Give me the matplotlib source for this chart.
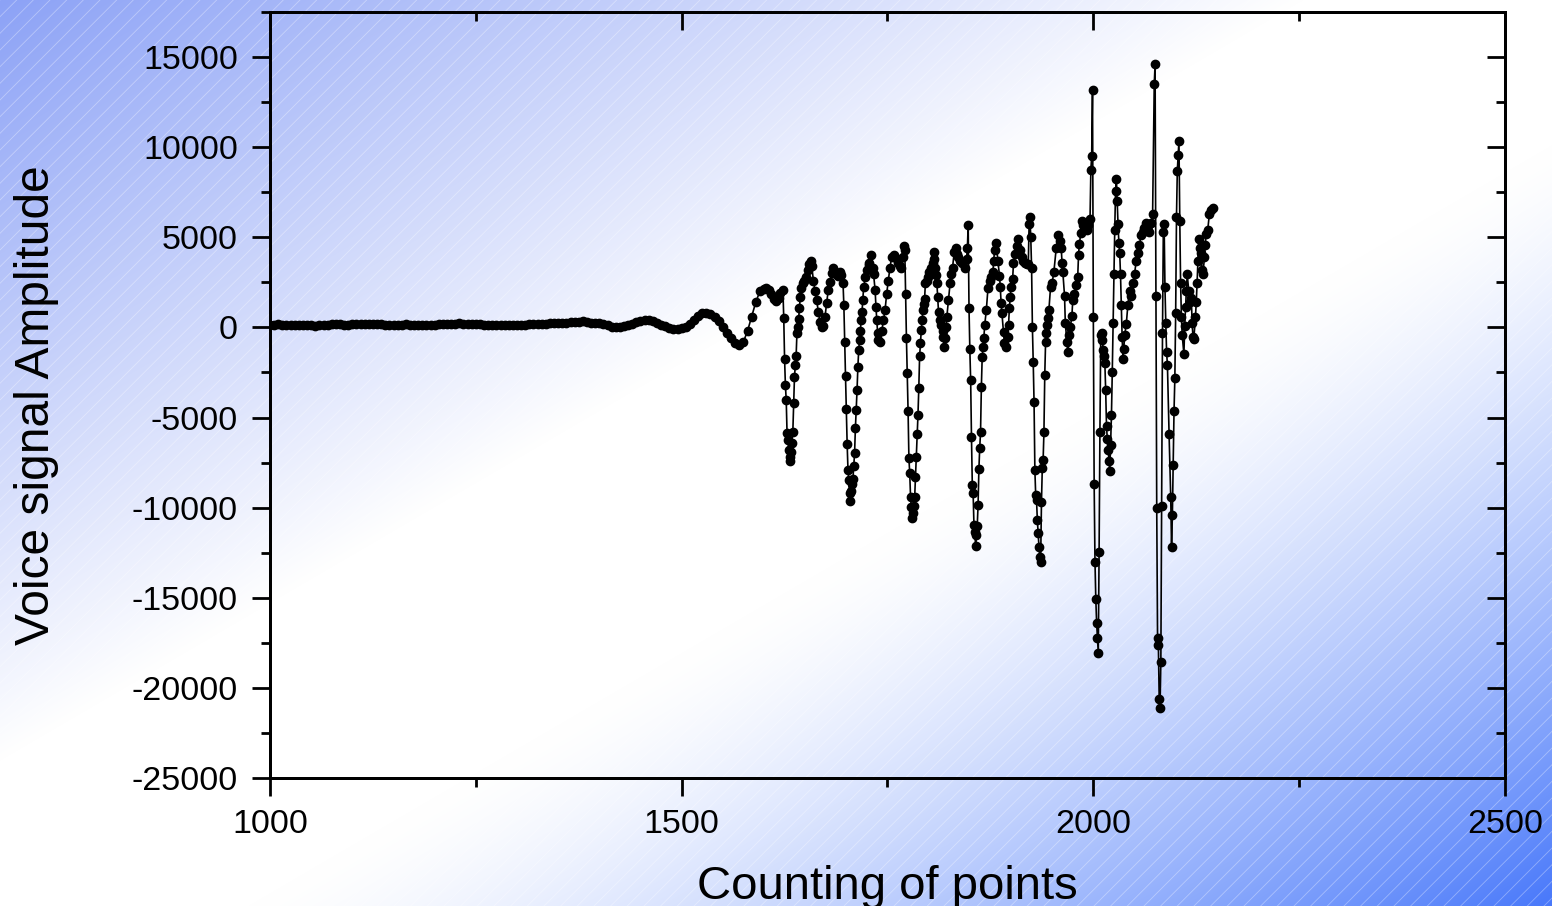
import numpy as np
import matplotlib
matplotlib.use("Agg")
from matplotlib import pyplot as plt
from matplotlib.patches import Rectangle

# quiet lead-in, one point every 5 samples
quiet_x = list(range(1000, 1600, 5))
quiet_y = [150, 160, 170, 150, 130, 120, 140, 160, 150, 130,
           110, 100, 120, 140, 160, 170, 180, 170, 160, 150,
           170, 190, 200, 210, 200, 190, 180, 170, 160, 150,
           140, 150, 160, 170, 160, 150, 140, 130, 140, 150,
           160, 170, 180, 190, 200, 210, 220, 210, 200, 190,
           180, 170, 160, 150, 140, 130, 120, 110, 120, 130,
           140, 150, 160, 170, 180, 190, 200, 210, 220, 230,
           240, 250, 260, 280, 300, 320, 330, 300, 270, 250,
           250, 200, 120, 50, 0, 20, 80, 130, 200, 300,
           380, 430, 420, 350, 250, 150, 60, -20, -80, -110,
           -60, 50, 200, 400, 650, 820, 800, 760, 600, 350,
           50, -300, -600, -850, -1000, -800, -200, 600, 1400, 2000]

# voiced part, read dot by dot
voice_x = [1600, 1603, 1606, 1609, 1612, 1615, 1618, 1620, 1623, 1624,
           1625, 1626, 1627, 1628, 1629, 1630, 1631, 1632, 1633, 1634,
           1635, 1636, 1637, 1638, 1639, 1640, 1641, 1642, 1643, 1644,
           1645, 1647, 1649, 1651, 1653, 1655, 1657, 1658, 1660, 1662,
           1664, 1666, 1668, 1670, 1672, 1674, 1676, 1678, 1680, 1682,
           1684, 1686, 1688, 1690, 1692, 1694, 1696, 1697, 1698, 1699,
           1700, 1701, 1702, 1703, 1704, 1705, 1706, 1707, 1708, 1709,
           1710, 1711, 1712, 1713, 1714, 1715, 1716, 1717, 1718, 1719,
           1720, 1721, 1723, 1725, 1727, 1728, 1730, 1732, 1733, 1735,
           1736, 1737, 1738, 1739, 1741, 1743, 1745, 1747, 1749, 1751,
           1753, 1755, 1758, 1761, 1763, 1765, 1767, 1769, 1770, 1771,
           1772, 1773, 1774, 1775, 1776, 1777, 1778, 1779, 1780, 1781,
           1782, 1783, 1784, 1785, 1786, 1787, 1788, 1789, 1790, 1791,
           1792, 1793, 1794, 1795, 1796, 1798, 1799, 1801, 1803, 1805,
           1806, 1807, 1808, 1809, 1810, 1811, 1812, 1814, 1815, 1817,
           1818, 1819, 1820, 1821, 1822, 1824, 1826, 1827, 1829, 1831,
           1833, 1835, 1836, 1838, 1841, 1844, 1846, 1847, 1848, 1849,
           1850, 1851, 1852, 1853, 1854, 1855, 1856, 1857, 1858, 1859,
           1860, 1861, 1862, 1863, 1864, 1865, 1866, 1867, 1868, 1870,
           1872, 1874, 1876, 1878, 1879, 1880, 1882, 1884, 1886, 1887,
           1888, 1889, 1891, 1892, 1894, 1896, 1897, 1898, 1899, 1900,
           1902, 1903, 1905, 1907, 1909, 1911, 1913, 1915, 1917, 1919,
           1921, 1922, 1923, 1924, 1925, 1926, 1927, 1928, 1929, 1930,
           1931, 1932, 1933, 1934, 1935, 1936, 1937, 1938, 1939, 1940,
           1941, 1942, 1943, 1944, 1945, 1946, 1948, 1950, 1952, 1955,
           1957, 1959, 1961, 1962, 1963, 1965, 1966, 1968, 1969, 1971,
           1972, 1974, 1975, 1977, 1979, 1981, 1982, 1983, 1985, 1986,
           1988, 1990, 1992, 1994, 1996, 1997, 1998, 1999, 2000, 2001,
           2002, 2003, 2004, 2005, 2006, 2007, 2008, 2009, 2010, 2011,
           2012, 2013, 2014, 2015, 2016, 2017, 2018, 2019, 2020, 2021,
           2022, 2023, 2024, 2025, 2026, 2027, 2028, 2029, 2030, 2031,
           2032, 2033, 2034, 2035, 2036, 2037, 2038, 2040, 2042, 2044,
           2046, 2048, 2050, 2052, 2054, 2056, 2058, 2060, 2062, 2064,
           2066, 2068, 2070, 2072, 2074, 2075, 2076, 2077, 2078, 2079,
           2080, 2081, 2082, 2083, 2084, 2085, 2086, 2087, 2088, 2089,
           2090, 2092, 2094, 2095, 2096, 2097, 2098, 2099, 2100, 2101,
           2102, 2103, 2104, 2105, 2106, 2107, 2108, 2110, 2111, 2112,
           2113, 2114, 2116, 2117, 2119, 2120, 2121, 2122, 2124, 2125,
           2126, 2127, 2128, 2130, 2131, 2132, 2133, 2135, 2136, 2137,
           2139, 2141, 2143, 2145]
voice_y = [2150, 2200, 2100, 1850, 1600, 1450, 1650, 1900, 2050, 500,
           -1770, -3210, -4040, -5870, -6260, -6810, -7200, -7420, -6900, -6400,
           -5820, -4200, -2770, -2100, -1600, -330, 0, 440, 1050, 1660,
           2160, 2440, 2600, 2770, 3160, 3500, 3710, 3400, 2600, 2000,
           1500, 850, 300, 0, 100, 550, 1330, 2050, 2500, 3000,
           3270, 3100, 2950, 2880, 3050, 2900, 2440, 1220, -830, -2710,
           -4540, -6480, -7920, -8480, -9200, -9640, -9100, -8700, -8420, -7700,
           -6980, -5600, -4600, -3490, -2220, -1270, -720, -220, 390, 830,
           1500, 2220, 2770, 3160, 3450, 3600, 3990, 3300, 2990, 2050,
           1110, 390, -300, -720, -830, -200, 390, 940, 1880, 2600,
           3320, 3880, 3990, 3800, 3600, 3400, 3320, 3900, 4490, 4300,
           1880, -610, -2550, -4650, -7260, -8090, -9420, -9970, -10580, -10300,
           -9900, -9420, -8300, -7200, -5930, -4880, -3380, -1610, -890, -170,
           390, 940, 1300, 1550, 2440, 2600, 2770, 3050, 3300, 3600,
           4160, 3800, 3300, 2900, 2440, 1660, 830, 400, 110, -200,
           -550, -1110, -600, 0, 550, 1500, 2440, 2990, 3320, 4160,
           4380, 4100, 3880, 3700, 3550, 3320, 3800, 4380, 5700, 1050,
           -1220, -2940, -6090, -8750, -9200, -10970, -11360, -12130, -11500, -11000,
           -9860, -7870, -6700, -5820, -3320, -1660, -1110, -610, 110, 940,
           2160, 2600, 2800, 3050, 3710, 4270, 4710, 3710, 2880, 2220,
           1330, 780, -280, -890, -1110, -550, 110, 1050, 1660, 2220,
           2710, 3550, 4100, 4540, 4930, 4300, 3880, 3700, 3550, 3500,
           3500, 5760, 6150, 5000, 3320, 0, -1940, -4160, -7920, -9310,
           -9580, -10690, -11410, -12190, -12740, -13020, -9700, -7810, -7370, -5820,
           -2660, -830, -330, 110, 500, 940, 2220, 2490, 3050, 4430,
           5100, 4800, 4430, 3550, 3050, 1770, 220, -830, -1390, -440,
           0, 660, 1500, 1880, 2330, 2770, 3990, 4650, 5260, 5930,
           5700, 5540, 5400, 5700, 6040, 8750, 9530, 13200, 550, -8700,
           -13000, -15070, -16400, -17240, -18060, -12440, -5820, -440, -330, -700,
           -1270, -1600, -1990, -3500, -5490, -6200, -6810, -7400, -7980, -6500,
           -4880, -2490, 270, 2940, 5430, 7590, 8250, 7000, 5710, 4710,
           4150, 2940, 1270, -550, -1770, -1200, -440, 170, 1270, 2000,
           1720, 2440, 2940, 3660, 4150, 4600, 5100, 5320, 5500, 5820,
           5600, 5320, 5800, 6320, 13520, 14600, 1720, -10030, -17240, -17620,
           -20610, -21100, -18560, -9920, -330, 5320, 5710, 2220, 270, -1390,
           -2100, -5930, -9420, -12190, -10410, -7650, -4650, -2830, 780, 6150,
           8700, 9580, 10360, 5930, 2440, 550, -440, -1500, 55, 1110,
           2000, 2940, 2000, 1390, 1610, 270, -550, -660, 550, 1390,
           2440, 3660, 4880, 4400, 4150, 3160, 2940, 3880, 4600, 5210,
           5430, 6320, 6540, 6600]

x_major = [1000, 1500, 2000, 2500]
x_minor = [1250, 1750, 2250]
y_major = list(range(-25000, 15001, 5000))
y_minor = list(range(-22500, 17501, 5000))

plt.rcParams['font.family'] = ['Liberation Sans', 'DejaVu Sans']
plt.rcParams['axes.unicode_minus'] = False

W, H = 1552, 906
fig = plt.figure(figsize=(W / 100, H / 100), dpi=100)

# blue - white - blue diagonal backdrop with faint hatch
bg = fig.add_axes([0, 0, 1, 1], zorder=0)
bg.set_axis_off()
u = np.linspace(0, 1, W)[None, :]
v = np.linspace(0, 1, H)[:, None]
t = (u + v) / 2
c0 = np.array([140, 162, 246]) / 255
c1 = np.array([72, 120, 250]) / 255
white = np.ones(3)
s0 = np.clip((0.42 - t) / 0.42, 0, 1)[..., None]
s1 = (np.clip((t - 0.58) / 0.42, 0, 1) ** 1.4)[..., None]
img = white + (c0 - white) * s0 + (c1 - white) * s1
bg.imshow(img, extent=[0, 1, 0, 1], aspect='auto', origin='upper')
plt.rcParams['hatch.linewidth'] = 0.6
bg.add_patch(Rectangle((0, 0), 1, 1, transform=bg.transAxes, facecolor='none',
                       edgecolor=(1, 1, 1, 0.35), hatch='//', lw=0))
bg.set_xlim(0, 1)
bg.set_ylim(0, 1)

ax = fig.add_axes([270 / W, 128 / H, 1235 / W, 766 / H], zorder=1)
ax.patch.set_alpha(0)

xs = quiet_x + voice_x
ys = quiet_y + voice_y
ax.plot(xs, ys, '-', color='black', lw=1.2, marker='o', ms=6, mfc='black', mec='black')

ax.set_xlim(1000, 2500)
ax.set_ylim(-25000, 17500)
ax.set_xticks(x_major)
ax.set_xticks(x_minor, minor=True)
ax.set_yticks(y_major)
ax.set_yticks(y_minor, minor=True)
ax.tick_params(which='major', direction='out', length=13, width=2, labelsize=24.5)
ax.tick_params(which='minor', direction='out', length=6.5, width=2)
ax.tick_params(axis='y', pad=10)
ax.tick_params(axis='x', pad=9)

# inward ticks on top and right
axr = ax.twinx()
axr.set_ylim(ax.get_ylim())
axr.set_yticks(y_major)
axr.set_yticks(y_minor, minor=True)
axr.tick_params(which='major', direction='in', length=13, width=2, labelright=False)
axr.tick_params(which='minor', direction='in', length=6.5, width=2)
axt = ax.twiny()
axt.set_xlim(ax.get_xlim())
axt.set_xticks(x_major)
axt.set_xticks(x_minor, minor=True)
axt.tick_params(which='major', direction='in', length=13, width=2, labeltop=False)
axt.tick_params(which='minor', direction='in', length=6.5, width=2)

for a in (ax, axr, axt):
    for sp in a.spines.values():
        sp.set_linewidth(2)

fig.text(887 / W, 7 / H, 'Counting of points', fontsize=34, ha='center', va='baseline')
fig.text(37 / W, (H - 405) / H, 'Voice signal Amplitude', fontsize=34.5, rotation=90,
         ha='center', va='center')

fig.savefig('out.png', dpi=100)
